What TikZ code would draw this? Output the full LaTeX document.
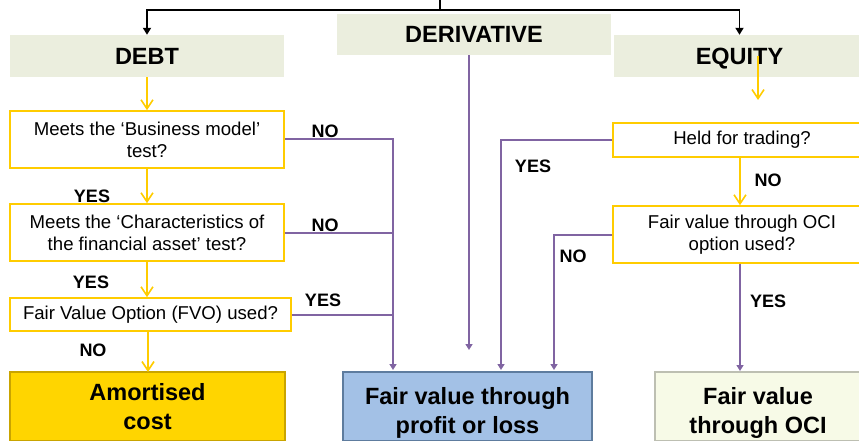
\documentclass[tikz,border=0pt]{standalone}
\usepackage{fontspec}
\setmainfont{Liberation Sans}
\usetikzlibrary{arrows.meta}
\definecolor{headfill}{HTML}{EBEEDE}
\definecolor{qyellow}{HTML}{FFCC00}
\definecolor{lpurple}{HTML}{8064A2}
\definecolor{amortgold}{HTML}{FFD500}
\definecolor{amortedge}{HTML}{C9A400}
\definecolor{plblue}{HTML}{A3C1E6}
\definecolor{pledge}{HTML}{5E7C9E}
\definecolor{ocicream}{HTML}{F7FAE7}
\definecolor{ociedge}{HTML}{BDBFB2}

\tikzset{
  head/.style={fill=headfill, inner sep=0pt, align=center, text height=17pt, text depth=0pt,
    font=\fontsize{23.5}{29}\selectfont\bfseries},
  question/.style={draw=qyellow, line width=1.6pt, fill=white, inner sep=0pt,
    align=center, font=\fontsize{18.6}{22}\selectfont},
  result/.style={line width=2pt, inner sep=0pt, align=center,
    font=\fontsize{23.5}{29}\selectfont\bfseries},
  lab/.style={font=\fontsize{18}{22}\selectfont\bfseries, inner sep=0pt},
  yel/.style={draw=qyellow, line width=1.6pt, -{Straight Barb[length=9pt,width=12pt]}},
  purp/.style={draw=lpurple, line width=2pt, -{Triangle[length=6pt,width=7pt]}},
  blk/.style={draw=black, line width=1.8pt, -{Triangle[length=7pt,width=8pt]}}
}

\begin{document}
\begin{tikzpicture}[x=1pt, y=-1pt]
        \useasboundingbox (0,0) rectangle (859,441);

        \node[head, minimum width=274pt, minimum height=42pt] (debt)   at (147,56)     {DEBT};
        \node[head, minimum width=274pt, minimum height=41pt] (deriv)  at (474,34.5)   {DERIVATIVE};
        \node[head, minimum width=251pt, minimum height=42pt] (equity) at (739.5,56)   {EQUITY};

        \node[question, minimum width=274pt, minimum height=57pt] (bizmodel) at (147,139.5)
              {Meets the ‘Business model’\\test?};
        \node[question, minimum width=274pt, minimum height=57pt] (charact)  at (147,232.5)
              {Meets the ‘Characteristics of\\the financial asset’ test?};
        \node[question, minimum width=281pt, minimum height=33pt] (fvo)      at (150.5,314.5)
              {Fair Value Option (FVO) used?};
        \node[question, minimum width=258pt, minimum height=34pt] (held)     at (742,140)
              {Held for trading?};
        \node[question, minimum width=258pt, minimum height=57pt] (fvoci)    at (742,234.5)
              {Fair value through OCI\\option used?};

        \node[result, fill=amortgold, draw=amortedge, minimum width=275pt, minimum height=69pt]
              (amort)    at (147.5,406.5) {Amortised\\cost};
        \node[result, fill=plblue, draw=pledge, minimum width=249pt, minimum height=69pt,
              text height=54pt, text depth=0pt] (fvpl) at (467.5,406.5) {Fair value through\\profit or loss};
        \node[result, fill=ocicream, draw=ociedge, minimum width=206pt, minimum height=69pt,
              text height=54pt, text depth=0pt] (fvocires) at (758,406.5) {Fair value\\through OCI};

        \coordinate (top)     at (440,0);
        \coordinate (split)   at (440,10);
        \coordinate (lineA)   at (393,370);
        \coordinate (lineB)   at (501,370);
        \coordinate (lineC)   at (554,370);
        \coordinate (derivend) at (469,350);
        \coordinate (eqtip)   at (758,100);
        \coordinate (amortin) at (148,372);

        % Draw the edges
        \draw[line width=1.8pt] (top) -- (split);
        \draw[blk] (split) -| (debt.north);
        \draw[blk] (split) -| (equity.north);

        \draw[yel] (debt.south) -- (bizmodel.north);
        \draw[yel] (bizmodel.south) -- (charact.north);
        \draw[yel] (charact.south) -- (charact.south |- fvo.north);
        \draw[yel] (fvo.south -| amortin) -- (amortin);
        \draw[yel] (equity.center -| eqtip) -- (eqtip);
        \draw[yel] (held.south -| 740,0) -- (fvoci.north -| 740,0);

        \draw[purp] (bizmodel.east) -| (lineA);
        \draw[purp, -] (charact.east) -- (charact.east -| lineA);
        \draw[purp, -] (fvo.east) -- (fvo.east -| lineA);
        \draw[purp] (deriv.south -| derivend) -- (derivend);
        \draw[purp] (held.west) -| (lineB);
        \draw[purp] (fvoci.west) -| (lineC);
        \draw[purp] (fvoci.south -| 740,0) -- (fvocires.north -| 740,0);

        \node[lab] (noA)  at (325,131) {NO};
        \node[lab] (noB)  at (325,225) {NO};
        \node[lab] (yesC) at (323,300) {YES};
        \node[lab] (yesA) at (92,196)  {YES};
        \node[lab] (yesB) at (91,282)  {YES};
        \node[lab] (noC)  at (93,350)  {NO};
        \node[lab] (yesD) at (533,166) {YES};
        \node[lab] (noD)  at (768,180) {NO};
        \node[lab] (noE)  at (573,256) {NO};
        \node[lab] (yesE) at (768,301) {YES};
    \end{tikzpicture}
\end{document}
